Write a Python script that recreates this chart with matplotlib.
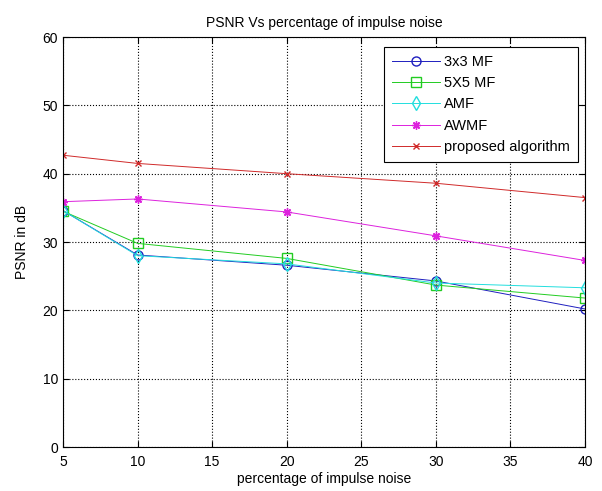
import numpy as np
import matplotlib
matplotlib.use('Agg')
import matplotlib.pyplot as plt

plt.rcParams['font.family'] = ['Liberation Sans', 'DejaVu Sans']

# noise percentage
noise = [5, 10, 20, 30, 40]

# PSNR values
mf3 = [34.6, 28.1, 26.6, 24.3, 20.2]
mf5 = [34.5, 29.8, 27.6, 23.7, 21.8]
amf = [34.6, 28.0, 26.8, 24.0, 23.3]
awmf = [35.9, 36.3, 34.4, 30.9, 27.3]
proposed = [42.7, 41.5, 40.0, 38.6, 36.5]

labels = ['3x3 MF', '5X5 MF', 'AMF', 'AWMF', 'proposed algorithm']

fig = plt.figure(figsize=(6.02, 4.91), dpi=100)
ax = fig.add_axes([0.1047, 0.0896, 0.8671, 0.835])

# matlab style asterisk = plus + cross
star = (8, 2, 0)

ax.plot(noise, mf3, '-o', color='#1f1fbf', mfc='none', ms=6.5, lw=0.7, label=labels[0])
ax.plot(noise, mf5, '-s', color='#22cc22', mfc='none', ms=7, lw=0.7, label=labels[1])
ax.plot(noise, amf, '-d', color='#22dede', mfc='none', ms=7, lw=0.7, label=labels[2])
ax.plot(noise, awmf, '-', marker=star, color='#dd22dd', ms=6, mew=1, lw=0.7, label=labels[3])
ax.plot(noise, proposed, '-x', color='#d02a2a', ms=4.5, lw=0.7, label=labels[4])

ax.set_xlim(5, 40)
ax.set_ylim(0, 60)
ax.set_xticks(np.arange(5, 41, 5))
ax.set_yticks(np.arange(0, 61, 10))
ax.grid(True, color='black', linestyle=':', linewidth=0.8)
ax.tick_params(direction='in', top=True, right=True, length=4, labelsize=10)
ax.tick_params(axis='x', pad=6)
for s in ax.spines.values():
    s.set_linewidth(0.8)

ax.set_title('PSNR Vs percentage of impulse noise', fontsize=10, pad=7)
ax.set_xlabel('percentage of impulse noise', fontsize=10, labelpad=2)
ax.set_ylabel('PSNR in dB', fontsize=10, labelpad=10)

leg = ax.legend(loc='upper right', bbox_to_anchor=(0.9866, 0.976), borderaxespad=0,
                fancybox=False, framealpha=1, edgecolor='black', fontsize=10.5,
                numpoints=1, handlelength=3.3, handletextpad=0.3, labelspacing=0.5,
                borderpad=0.55)
leg.get_frame().set_linewidth(0.8)

fig.savefig('out.png', dpi=100)
